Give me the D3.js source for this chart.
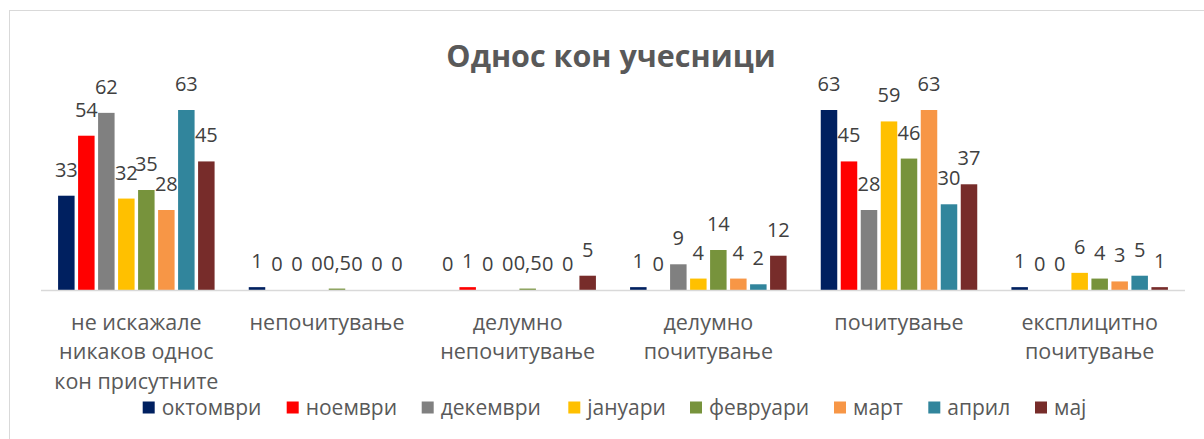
<!DOCTYPE html>
<html><head><meta charset="utf-8">
<script src="https://cdn.jsdelivr.net/npm/d3@7"></script>
<style>body{margin:0;background:#fff;} svg{display:block;}</style>
</head><body>
<svg id="c" width="1204" height="439"></svg>
<script>
const title = "Однос кон учесници";
const categories = [
  ["не искажале","никаков однос","кон присутните"],
  ["непочитување"],
  ["делумно","непочитување"],
  ["делумно","почитување"],
  ["почитување"],
  ["експлицитно","почитување"]
];
const seriesNames = ["октомври","ноември","декември","јануари","февруари","март","април","мај"];
const seriesColors = ["#002060","#FF0000","#808080","#FFC000","#77933C","#F79646","#31859C","#772C2A"];
const oktomvri = [33,1,0,1,63,1];
const noemvri  = [54,0,1,0,45,0];
const dekemvri = [62,0,0,9,28,0];
const januari  = [32,0,0,4,59,6];
const fevruari = [35,0.5,0.5,14,46,4];
const mart     = [28,0,0,4,63,3];
const april    = [63,0,0,2,30,5];
const maj      = [45,0,5,12,37,1];
const seriesValues = [oktomvri,noemvri,dekemvri,januari,fevruari,mart,april,maj];

const svg = d3.select("#c");
const font = "'Open Sans', sans-serif";

svg.append("rect").attr("x",9.5).attr("y",10.5).attr("width",1210).attr("height",450)
  .attr("fill","#fff").attr("stroke","#d9d9d9").attr("stroke-width",1);

svg.append("text").attr("x",611).attr("y",67).attr("text-anchor","middle")
  .attr("font-family",font).attr("font-weight","bold").attr("font-size",30.5)
  .attr("fill","#595959").text(title);

const x0 = d3.scaleBand().domain(d3.range(categories.length)).range([41,1185]).padding(0);
const x1 = d3.scaleBand().domain(d3.range(seriesNames.length)).range([-80,80]).paddingInner(0.175).paddingOuter(0.0875);
const y = d3.scaleLinear().domain([0,70]).range([290,90]);
const fmt = v => String(v).replace(".", ",");

const g = svg.append("g");
seriesNames.forEach((s,si)=>{
  const vals = seriesValues[si];
  const sg = g.append("g");
  sg.selectAll("rect").data(vals).join("rect")
    .attr("x",(d,i)=>x0(i)+x0.bandwidth()/2 + x1(si))
    .attr("width",x1.bandwidth())
    .attr("y",d=>y(d)).attr("height",d=>y(0)-y(d))
    .attr("fill",seriesColors[si]);
  sg.selectAll("text").data(vals).join("text")
    .attr("x",(d,i)=>x0(i)+x0.bandwidth()/2 + x1(si)+x1.bandwidth()/2)
    .attr("y",d=>y(d)-19)
    .attr("text-anchor","middle").attr("font-family",font).attr("font-size",20)
    .attr("fill","#404040").text(d=>fmt(d));
});

svg.append("line").attr("x1",41).attr("x2",1185).attr("y1",290.5).attr("y2",290.5)
  .attr("stroke","#d9d9d9").attr("stroke-width",1.5);

const cl = svg.append("g");
categories.forEach((lines,i)=>{
  const t = cl.append("text").attr("text-anchor","middle").attr("font-family",font)
    .attr("font-size",21.5).attr("fill","#595959");
  lines.forEach((ln,j)=>{
    t.append("tspan").attr("x",x0(i)+x0.bandwidth()/2).attr("y",330+j*29.3).text(ln);
  });
});

const legendX = [142.7,286.7,421.7,568.3,690,834,928.3,1035];
const lg = svg.append("g");
seriesNames.forEach((s,i)=>{
  lg.append("rect").attr("x",legendX[i]).attr("y",401.5).attr("width",12).attr("height",12).attr("fill",seriesColors[i]);
  lg.append("text").attr("x",legendX[i]+19).attr("y",414.5).attr("font-family",font).attr("font-size",21)
    .attr("fill","#595959").text(s);
});
</script>
</body></html>
